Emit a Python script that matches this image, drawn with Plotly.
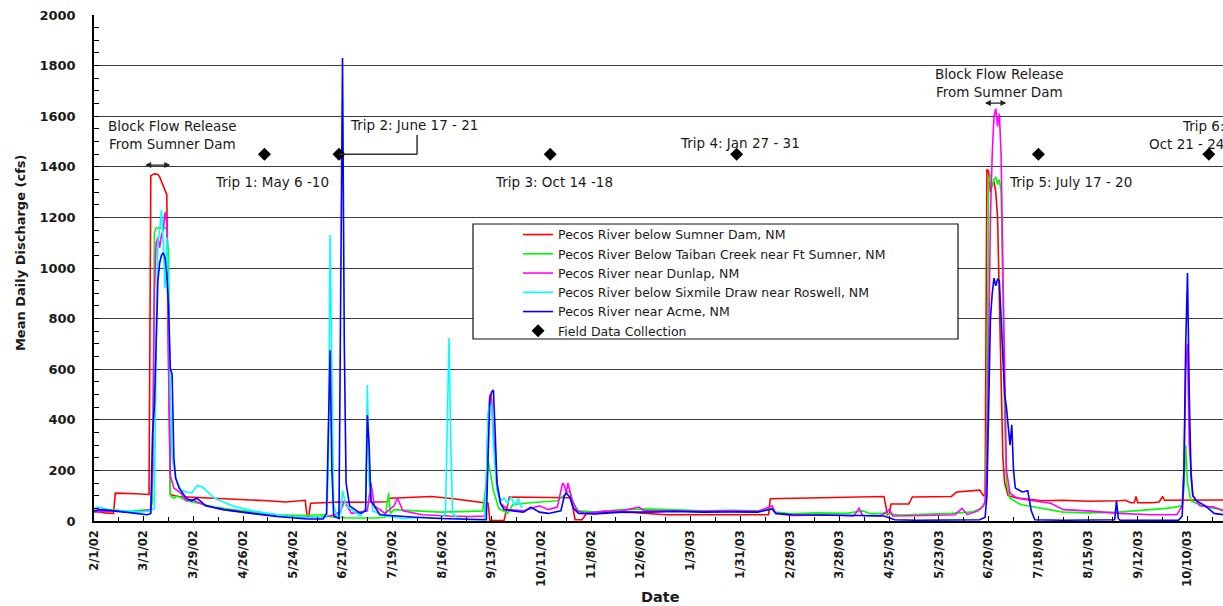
import plotly.graph_objects as go

# Mean daily discharge (cfs) at five Pecos River gauges, Feb 2002 - Oct 2003

sumner_dates = [
    "2002-02-01", "2002-02-07", "2002-02-12", "2002-02-13", "2002-02-25", "2002-03-04",
    "2002-03-05", "2002-03-07", "2002-03-09", "2002-03-10", "2002-03-12", "2002-03-13",
    "2002-03-14", "2002-03-15", "2002-03-16", "2002-03-20", "2002-04-01", "2002-04-15",
    "2002-05-01", "2002-05-10", "2002-05-20", "2002-05-25", "2002-05-31", "2002-06-01",
    "2002-06-02", "2002-06-03", "2002-06-20", "2002-07-05", "2002-07-16", "2002-07-18",
    "2002-08-01", "2002-08-10", "2002-08-20", "2002-08-25", "2002-09-01", "2002-09-11",
    "2002-09-12", "2002-09-20", "2002-09-23", "2002-10-01", "2002-10-15", "2002-10-27",
    "2002-10-28", "2002-10-30", "2002-11-03", "2002-11-06", "2002-11-20", "2002-12-01",
    "2002-12-20", "2003-02-16", "2003-02-17", "2003-04-08", "2003-04-20", "2003-04-22",
    "2003-04-24", "2003-04-25", "2003-04-26", "2003-05-06", "2003-05-08", "2003-05-30",
    "2003-06-02", "2003-06-08", "2003-06-12", "2003-06-15", "2003-06-17", "2003-06-18",
    "2003-06-19", "2003-06-20", "2003-06-21", "2003-06-22", "2003-06-23", "2003-06-24",
    "2003-06-25", "2003-06-26", "2003-06-27", "2003-06-28", "2003-06-29", "2003-07-01",
    "2003-07-05", "2003-07-20", "2003-08-01", "2003-08-15", "2003-09-01", "2003-09-05",
    "2003-09-08", "2003-09-10", "2003-09-11", "2003-09-12", "2003-09-20", "2003-09-24",
    "2003-09-26", "2003-09-27", "2003-10-30",
]
sumner_cfs = [
    40, 32, 30, 110, 108, 105,
    1365, 1372, 1370, 1360, 1325, 1305,
    1290, 650, 105, 97, 93, 90,
    85, 80, 75, 78, 82, 20,
    18, 70, 75, 74, 76, 90,
    95, 97, 90, 85, 80, 70,
    2, 2, 95, 95, 93, 92,
    85, 5, 5, 35, 35, 34,
    25, 25, 88, 95, 98, 97,
    25, 30, 67, 67, 95, 97,
    115, 118, 120, 122, 100, 105,
    1390, 1380, 1300, 1330, 1340, 1300,
    1200, 900, 500, 250, 150, 100,
    92, 80, 82, 78, 80, 82,
    72, 72, 97, 72, 72, 75,
    97, 82, 83,
]

taiban_dates = [
    "2002-02-01", "2002-02-10", "2002-02-20", "2002-02-28", "2002-03-05", "2002-03-06",
    "2002-03-07", "2002-03-08", "2002-03-11", "2002-03-13", "2002-03-14", "2002-03-15",
    "2002-03-16", "2002-03-18", "2002-03-20", "2002-03-25", "2002-04-01", "2002-04-10",
    "2002-04-20", "2002-05-01", "2002-05-15", "2002-05-31", "2002-06-10", "2002-06-15",
    "2002-06-25", "2002-07-10", "2002-07-15", "2002-07-17", "2002-07-18", "2002-07-20",
    "2002-08-01", "2002-08-15", "2002-09-01", "2002-09-08", "2002-09-10", "2002-09-11",
    "2002-09-12", "2002-09-14", "2002-09-17", "2002-09-22", "2002-09-25", "2002-10-01",
    "2002-10-10", "2002-10-20", "2002-10-25", "2002-10-27", "2002-10-29", "2002-11-01",
    "2002-11-10", "2002-11-25", "2002-12-10", "2002-12-25", "2003-01-10", "2003-01-25",
    "2003-02-10", "2003-02-18", "2003-02-20", "2003-03-01", "2003-03-15", "2003-04-01",
    "2003-04-10", "2003-04-15", "2003-04-22", "2003-05-01", "2003-05-15", "2003-05-30",
    "2003-06-10", "2003-06-16", "2003-06-18", "2003-06-19", "2003-06-20", "2003-06-21",
    "2003-06-22", "2003-06-23", "2003-06-24", "2003-06-25", "2003-06-26", "2003-06-27",
    "2003-06-28", "2003-06-29", "2003-06-30", "2003-07-02", "2003-07-08", "2003-07-20",
    "2003-08-01", "2003-08-15", "2003-09-01", "2003-09-10", "2003-09-20", "2003-09-28",
    "2003-10-03", "2003-10-07", "2003-10-08", "2003-10-09", "2003-10-10", "2003-10-12",
    "2003-10-15", "2003-10-20", "2003-10-30",
]
taiban_cfs = [
    40, 45, 38, 42, 45, 80,
    1140, 1158, 1160, 1160, 1150, 1050,
    100, 90, 100, 80, 70, 55,
    45, 35, 25, 22, 25, 15,
    12, 12, 15, 110, 30, 45,
    40, 35, 38, 40, 150, 240,
    200, 120, 50, 30, 65, 70,
    75, 80, 110, 120, 70, 40,
    35, 45, 48, 45, 40, 42,
    40, 50, 35, 28, 32, 30,
    40, 28, 30, 24, 26, 30,
    35, 50, 70, 400, 1340, 1370,
    1320, 1350, 1360, 1330, 1350, 1300,
    900, 400, 150, 90, 65, 50,
    35, 32, 35, 40, 45, 50,
    55, 60, 130, 300, 150, 80,
    70, 55, 45,
]

dunlap_dates = [
    "2002-02-01", "2002-02-10", "2002-02-20", "2002-02-28", "2002-03-05", "2002-03-06",
    "2002-03-07", "2002-03-08", "2002-03-09", "2002-03-10", "2002-03-11", "2002-03-12",
    "2002-03-13", "2002-03-14", "2002-03-15", "2002-03-16", "2002-03-18", "2002-03-22",
    "2002-03-25", "2002-03-28", "2002-04-05", "2002-04-15", "2002-05-01", "2002-05-15",
    "2002-06-01", "2002-06-10", "2002-06-17", "2002-06-20", "2002-06-22", "2002-06-26",
    "2002-07-05", "2002-07-07", "2002-07-09", "2002-07-15", "2002-07-20", "2002-07-22",
    "2002-07-25", "2002-08-05", "2002-08-20", "2002-09-01", "2002-09-09", "2002-09-10",
    "2002-09-11", "2002-09-12", "2002-09-13", "2002-09-14", "2002-09-16", "2002-09-18",
    "2002-09-22", "2002-10-01", "2002-10-10", "2002-10-15", "2002-10-20", "2002-10-23",
    "2002-10-24", "2002-10-25", "2002-10-26", "2002-10-28", "2002-10-31", "2002-11-05",
    "2002-11-15", "2002-11-25", "2002-12-05", "2002-12-08", "2002-12-20", "2003-01-10",
    "2003-01-25", "2003-02-10", "2003-02-18", "2003-02-20", "2003-03-01", "2003-03-20",
    "2003-04-05", "2003-04-08", "2003-04-10", "2003-04-20", "2003-04-25", "2003-04-27",
    "2003-05-15", "2003-06-01", "2003-06-05", "2003-06-08", "2003-06-14", "2003-06-17",
    "2003-06-18", "2003-06-19", "2003-06-20", "2003-06-21", "2003-06-22", "2003-06-23",
    "2003-06-24", "2003-06-25", "2003-06-26", "2003-06-27", "2003-06-28", "2003-06-29",
    "2003-06-30", "2003-07-02", "2003-07-06", "2003-07-15", "2003-07-25", "2003-08-01",
    "2003-08-15", "2003-09-01", "2003-09-20", "2003-10-04", "2003-10-07", "2003-10-08",
    "2003-10-09", "2003-10-10", "2003-10-11", "2003-10-13", "2003-10-17", "2003-10-25",
    "2003-10-30",
]
dunlap_cfs = [
    35, 40, 35, 38, 45, 200,
    900, 1100, 1120, 1080, 1130, 1150,
    1220, 1180, 600, 180, 130, 110,
    80, 85, 60, 45, 30, 20,
    15, 15, 25, 40, 80, 30,
    40, 150, 60, 30, 60, 90,
    40, 25, 20, 18, 20, 150,
    400, 500, 480, 350, 150, 70,
    45, 40, 60, 45, 55, 150,
    140, 110, 150, 90, 40, 30,
    38, 40, 55, 40, 40, 38,
    40, 38, 60, 30, 22, 24,
    20, 50, 22, 20, 45, 20,
    22, 25, 50, 25, 40, 60,
    80, 250, 700, 1200, 1450, 1600,
    1630, 1560, 1610, 1450, 1000, 500,
    200, 110, 90, 80, 70, 45,
    40, 30, 25, 25, 60, 200,
    600, 700, 300, 100, 60, 55,
    40,
]

sixmile_dates = [
    "2002-02-01", "2002-02-04", "2002-02-10", "2002-02-20", "2002-02-28", "2002-03-05",
    "2002-03-07", "2002-03-08", "2002-03-09", "2002-03-10", "2002-03-11", "2002-03-12",
    "2002-03-13", "2002-03-14", "2002-03-15", "2002-03-16", "2002-03-17", "2002-03-19",
    "2002-03-22", "2002-03-28", "2002-03-31", "2002-04-03", "2002-04-10", "2002-04-20",
    "2002-05-01", "2002-05-20", "2002-06-01", "2002-06-12", "2002-06-13", "2002-06-14",
    "2002-06-15", "2002-06-16", "2002-06-18", "2002-06-20", "2002-06-21", "2002-06-23",
    "2002-07-01", "2002-07-04", "2002-07-05", "2002-07-06", "2002-07-08", "2002-07-15",
    "2002-07-25", "2002-08-05", "2002-08-14", "2002-08-16", "2002-08-18", "2002-08-19",
    "2002-08-20", "2002-08-21", "2002-08-22", "2002-08-25", "2002-09-01", "2002-09-09",
    "2002-09-10", "2002-09-11", "2002-09-12", "2002-09-13", "2002-09-14", "2002-09-16",
    "2002-09-18", "2002-09-20", "2002-09-22", "2002-09-24", "2002-09-26", "2002-09-28",
    "2002-09-30",
]
sixmile_cfs = [
    50, 55, 42, 40, 36, 40,
    50, 700, 1100, 1150, 1230, 1100,
    920, 1120, 900, 500, 250, 170,
    120, 110, 140, 135, 90, 60,
    40, 20, 15, 15, 200, 1130,
    500, 60, 20, 30, 120, 60,
    20, 50, 538, 150, 40, 20,
    10, 15, 10, 15, 30, 400,
    723, 300, 30, 10, 5, 5,
    150, 420, 480, 450, 300, 120,
    80, 90, 70, 95, 60, 90,
    50,
]

acme_dates = [
    "2002-02-01", "2002-02-05", "2002-02-15", "2002-02-25", "2002-03-03", "2002-03-05",
    "2002-03-06", "2002-03-07", "2002-03-08", "2002-03-09", "2002-03-10", "2002-03-11",
    "2002-03-12", "2002-03-13", "2002-03-14", "2002-03-15", "2002-03-16", "2002-03-17",
    "2002-03-18", "2002-03-19", "2002-03-21", "2002-03-25", "2002-03-28", "2002-03-31",
    "2002-04-05", "2002-04-15", "2002-05-01", "2002-05-15", "2002-06-01", "2002-06-10",
    "2002-06-12", "2002-06-13", "2002-06-14", "2002-06-15", "2002-06-16", "2002-06-19",
    "2002-06-20", "2002-06-21", "2002-06-22", "2002-06-23", "2002-06-25", "2002-07-01",
    "2002-07-04", "2002-07-05", "2002-07-06", "2002-07-07", "2002-07-12", "2002-07-20",
    "2002-08-01", "2002-08-15", "2002-09-01", "2002-09-10", "2002-09-11", "2002-09-12",
    "2002-09-13", "2002-09-14", "2002-09-15", "2002-09-16", "2002-09-18", "2002-09-20",
    "2002-09-25", "2002-10-01", "2002-10-05", "2002-10-10", "2002-10-15", "2002-10-22",
    "2002-10-24", "2002-10-25", "2002-10-27", "2002-10-29", "2002-11-01", "2002-11-10",
    "2002-11-25", "2002-12-10", "2002-12-25", "2003-01-10", "2003-01-25", "2003-02-10",
    "2003-02-18", "2003-02-20", "2003-03-01", "2003-03-20", "2003-04-10", "2003-04-22",
    "2003-04-28", "2003-05-10", "2003-06-01", "2003-06-15", "2003-06-18", "2003-06-19",
    "2003-06-20", "2003-06-21", "2003-06-22", "2003-06-23", "2003-06-24", "2003-06-25",
    "2003-06-26", "2003-06-27", "2003-06-28", "2003-06-29", "2003-06-30", "2003-07-01",
    "2003-07-02", "2003-07-03", "2003-07-04", "2003-07-05", "2003-07-09", "2003-07-12",
    "2003-07-14", "2003-07-16", "2003-08-01", "2003-08-30", "2003-08-31", "2003-09-01",
    "2003-09-02", "2003-09-20", "2003-10-05", "2003-10-07", "2003-10-08", "2003-10-09",
    "2003-10-10", "2003-10-11", "2003-10-12", "2003-10-13", "2003-10-15", "2003-10-20",
    "2003-10-25", "2003-10-30",
]
acme_cfs = [
    40, 45, 38, 30, 25, 30,
    350, 450, 700, 950, 1020, 1050,
    1060, 1040, 980, 850, 600, 580,
    250, 170, 130, 90, 80, 90,
    60, 45, 30, 18, 8, 8,
    30, 400, 676, 200, 20, 10,
    900, 1830, 700, 150, 60, 30,
    40, 419, 300, 80, 25, 20,
    15, 10, 5, 5, 250, 480,
    510, 518, 350, 150, 70, 45,
    40, 35, 55, 35, 30, 40,
    100, 110, 95, 50, 30, 28,
    35, 35, 38, 35, 36, 35,
    48, 30, 25, 25, 22, 20,
    5, 3, 3, 5, 15, 100,
    450, 800, 900, 960, 930, 955,
    950, 800, 600, 500, 450, 380,
    300, 380, 200, 130, 115, 120,
    40, 5, 3, 5, 80, 10,
    3, 3, 3, 20, 200, 700,
    980, 500, 180, 100, 80, 60,
    30, 25,
]

# Field sampling trips (plotted on a fixed reference level)
trip_dates = ["2002-05-08", "2002-06-19", "2002-10-16", "2003-01-29", "2003-07-18", "2003-10-22"]
trip_level = [1450, 1450, 1450, 1450, 1450, 1450]

# Date axis labels, every four weeks
tick_dates = [
    "2002-02-01", "2002-03-01", "2002-03-29", "2002-04-26", "2002-05-24", "2002-06-21",
    "2002-07-19", "2002-08-16", "2002-09-13", "2002-10-11", "2002-11-08", "2002-12-06",
    "2003-01-03", "2003-01-31", "2003-02-28", "2003-03-28", "2003-04-25", "2003-05-23",
    "2003-06-20", "2003-07-18", "2003-08-15", "2003-09-12", "2003-10-10",
]
tick_labels = [
    "2/1/02", "3/1/02", "3/29/02", "4/26/02", "5/24/02", "6/21/02",
    "7/19/02", "8/16/02", "9/13/02", "10/11/02", "11/8/02", "12/6/02",
    "1/3/03", "1/31/03", "2/28/03", "3/28/03", "4/25/03", "5/23/03",
    "6/20/03", "7/18/03", "8/15/03", "9/12/03", "10/10/03",
]

FONT = "DejaVu Sans"
TXT = "#1a1a1a"

series = [
    ("Pecos River below Sumner Dam, NM", sumner_dates, sumner_cfs, "#FF0000"),
    ("Pecos River Below Taiban Creek near Ft Sumner, NM", taiban_dates, taiban_cfs, "#00FF00"),
    ("Pecos River near Dunlap, NM", dunlap_dates, dunlap_cfs, "#FF00FF"),
    ("Pecos River below Sixmile Draw near Roswell, NM", sixmile_dates, sixmile_cfs, "#00FFFF"),
    ("Pecos River near Acme, NM", acme_dates, acme_cfs, "#0000FF"),
]

fig = go.Figure()
for name, d, v, c in series:
    fig.add_trace(go.Scatter(x=d, y=v, mode="lines", name=name,
                             line=dict(color=c, width=1.6)))

fig.add_trace(go.Scatter(x=trip_dates, y=trip_level, mode="markers",
                         name="Field Data Collection",
                         marker=dict(symbol="diamond", size=10, color="black")))

ann_font = dict(family=FONT, size=13.5, color=TXT)
annotations = [
    dict(x="2002-03-17", y=1524, text="Block Flow Release<br>From Sumner Dam"),
    dict(x="2002-05-12", y=1340, text="Trip 1: May 6 -10"),
    dict(x="2002-07-31", y=1565, text="Trip 2: June 17 - 21"),
    dict(x="2002-10-18", y=1340, text="Trip 3: Oct 14 -18"),
    dict(x="2003-01-31", y=1494, text="Trip 4: Jan 27 - 31"),
    dict(x="2003-06-26", y=1731, text="Block Flow Release<br>From Sumner Dam"),
    dict(x="2003-08-05", y=1340, text="Trip 5: July 17 - 20"),
]
ann_list = [dict(a, xref="x", yref="y", showarrow=False, font=ann_font) for a in annotations]
ann_list.append(dict(x=1, xref="paper", xshift=3, xanchor="right", y=1524, yref="y",
                     text="Trip 6:<br>Oct 21 - 24", align="right", showarrow=False, font=ann_font))

# Double-headed arrows spanning the block releases
for x0, x1, yv in [("2002-03-01", "2002-03-16", 1407), ("2003-06-17", "2003-06-30", 1652)]:
    ann_list.append(dict(x=x1, y=yv, ax=x0, ay=yv, xref="x", yref="y", axref="x", ayref="y",
                         text="", showarrow=True, arrowhead=2, arrowside="end+start",
                         arrowsize=1, arrowwidth=1.2, arrowcolor="#222"))

# Axis titles
ann_list.append(dict(x=-0.0655, y=0.5296, xref="paper", yref="paper", textangle=-90,
                     xanchor="center", yanchor="middle",
                     text="<b>Mean Daily Discharge (cfs)</b>", showarrow=False,
                     font=dict(family=FONT, size=13, color=TXT)))
ann_list.append(dict(x=0.502, y=-0.150, xref="paper", yref="paper",
                     xanchor="center", yanchor="middle",
                     text="<b>Date</b>", showarrow=False,
                     font=dict(family=FONT, size=14.5, color=TXT)))

shapes = [
    # callout from the Trip 2 marker to its label
    dict(type="line", xref="x", yref="y", x0="2002-06-19", y0=1450, x1="2002-08-02", y1=1450,
         line=dict(color="#333", width=1.5)),
    dict(type="line", xref="x", yref="y", x0="2002-08-02", y0=1450, x1="2002-08-02", y1=1526,
         line=dict(color="#333", width=1.5)),
    # legend frame
    dict(type="rect", xref="paper", yref="paper", x0=0.3357, x1=0.7653, y0=0.3597, y1=0.5870,
         line=dict(color="#111", width=1.2), fillcolor="white", layer="above"),
]

fig.update_layout(
    width=1223, height=606,
    margin=dict(l=94, r=0, t=15, b=85),
    paper_bgcolor="white", plot_bgcolor="white",
    showlegend=True,
    legend=dict(x=0.3756, y=0.595, xanchor="left", yanchor="top",
                bgcolor="rgba(0,0,0,0)", borderwidth=0, tracegroupgap=0,
                font=dict(family=FONT, size=12.5, color=TXT)),
    annotations=ann_list,
    shapes=shapes,
    xaxis=dict(
        type="date", range=["2002-02-01", "2003-10-30"],
        tickvals=tick_dates, ticktext=tick_labels, tickangle=-90,
        tickfont=dict(family=FONT, size=11.5, color=TXT, weight="bold"),
        ticks="inside", ticklen=5, tickcolor="black", ticklabelstandoff=3,
        minor=dict(dtick=14 * 86400000, tick0="2002-02-01", ticks="inside",
                   ticklen=4, tickcolor="black", showgrid=False),
        showgrid=False, zeroline=False,
        showline=True, linecolor="black", linewidth=1.5,
    ),
    yaxis=dict(
        range=[0, 2000], dtick=200, tick0=0,
        tickfont=dict(family=FONT, size=13, color=TXT, weight="bold"),
        ticks="inside", ticklen=5, tickcolor="black", ticklabelstandoff=14,
        minor=dict(dtick=50, ticks="inside", ticklen=5, tickcolor="black", showgrid=False),
        showgrid=True, gridcolor="#3a3a3a", gridwidth=1, zeroline=False,
        showline=True, linecolor="black", linewidth=1.5,
    ),
)

fig.write_html("out.html")
